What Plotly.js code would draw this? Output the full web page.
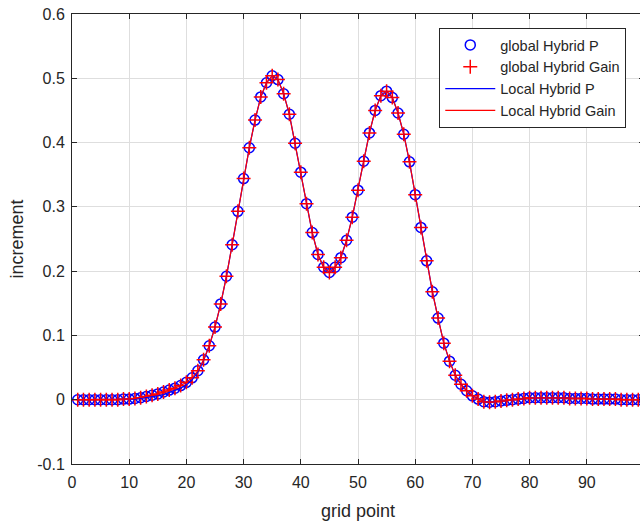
<!DOCTYPE html>
<html>
<head>
<meta charset="utf-8">
<script src="https://cdn.plot.ly/plotly-3.0.1.min.js"></script>
<style>
html, body { margin: 0; padding: 0; overflow: hidden; background: #fff; }
#chart { width: 650px; height: 522px; }
</style>
</head>
<body>
<div id="chart"></div>
<script>
// grid points 1..100
const gridPoint = [
  1,2,3,4,5,6,7,8,9,10,11,12,13,14,15,16,17,18,19,20,
  21,22,23,24,25,26,27,28,29,30,31,32,33,34,35,36,37,38,39,40,
  41,42,43,44,45,46,47,48,49,50,51,52,53,54,55,56,57,58,59,60,
  61,62,63,64,65,66,67,68,69,70,71,72,73,74,75,76,77,78,79,80,
  81,82,83,84,85,86,87,88,89,90,91,92,93,94,95,96,97,98,99,100
];

const globalHybridP = [
  0,0,0,0,0,0,0,0,0.001,0.001,0.002,0.003,0.005,0.007,0.009,0.012,0.015,0.018,0.022,0.027,
  0.034,0.045,0.062,0.084,0.113,0.149,0.192,0.241,0.293,0.344,0.392,0.435,0.471,0.493,0.504,0.498,0.476,0.444,0.399,0.354,
  0.305,0.260,0.226,0.206,0.198,0.206,0.221,0.248,0.284,0.326,0.371,0.415,0.450,0.473,0.480,0.470,0.446,0.413,0.370,0.319,
  0.268,0.216,0.168,0.127,0.088,0.060,0.038,0.024,0.014,0.006,0.001,-0.003,-0.004,-0.003,-0.002,-0.001,0,0.001,0.002,0.003,
  0.003,0.003,0.003,0.003,0.003,0.003,0.002,0.002,0.002,0.002,0.001,0.001,0.001,0.001,0.001,0,0,0,0,0
];

const globalHybridGain = [
  0,0,0,0,0,0,0,0,0.001,0.001,0.002,0.003,0.005,0.007,0.009,0.012,0.015,0.018,0.022,0.027,
  0.034,0.045,0.062,0.084,0.113,0.149,0.192,0.241,0.293,0.344,0.392,0.435,0.471,0.493,0.504,0.498,0.476,0.444,0.399,0.354,
  0.305,0.260,0.226,0.206,0.198,0.206,0.221,0.248,0.284,0.326,0.371,0.415,0.450,0.473,0.480,0.470,0.446,0.413,0.370,0.319,
  0.268,0.216,0.168,0.127,0.088,0.060,0.038,0.024,0.014,0.006,0.001,-0.003,-0.004,-0.003,-0.002,-0.001,0,0.001,0.002,0.003,
  0.003,0.003,0.003,0.003,0.003,0.003,0.002,0.002,0.002,0.002,0.001,0.001,0.001,0.001,0.001,0,0,0,0,0
];

const localHybridP = [
  0,0,0,0,0,0,0,0,0,0.001,0.001,0.002,0.003,0.004,0.006,0.008,0.011,0.014,0.018,0.023,
  0.031,0.043,0.061,0.084,0.113,0.149,0.192,0.241,0.293,0.344,0.392,0.435,0.471,0.493,0.504,0.498,0.476,0.444,0.399,0.354,
  0.305,0.260,0.226,0.206,0.198,0.206,0.221,0.248,0.284,0.326,0.371,0.415,0.450,0.473,0.480,0.470,0.446,0.413,0.370,0.319,
  0.268,0.216,0.168,0.127,0.088,0.060,0.038,0.024,0.014,0.006,0.001,-0.003,-0.004,-0.003,-0.002,-0.001,0,0.001,0.002,0.003,
  0.003,0.003,0.003,0.003,0.003,0.003,0.002,0.002,0.002,0.002,0.001,0.001,0.001,0.001,0.001,0,0,0,0,0
];

const localHybridGain = [
  0,0,0,0,0,0,0,0,0.001,0.001,0.002,0.003,0.005,0.007,0.009,0.012,0.015,0.018,0.022,0.027,
  0.034,0.045,0.062,0.084,0.113,0.149,0.192,0.241,0.293,0.344,0.392,0.435,0.471,0.493,0.504,0.498,0.476,0.444,0.399,0.354,
  0.305,0.260,0.226,0.206,0.198,0.206,0.221,0.248,0.284,0.326,0.371,0.415,0.450,0.473,0.480,0.470,0.446,0.413,0.370,0.319,
  0.268,0.216,0.168,0.127,0.088,0.060,0.038,0.024,0.014,0.006,0.001,-0.003,-0.004,-0.003,-0.002,-0.001,0,0.001,0.002,0.003,
  0.003,0.003,0.003,0.003,0.003,0.003,0.002,0.002,0.002,0.002,0.001,0.001,0.001,0.001,0.001,0,0,0,0,0
];

const xTicks = [0,10,20,30,40,50,60,70,80,90,100];
const xTickText = ['0','10','20','30','40','50','60','70','80','90','100'];
const yTicks = [-0.1,0,0.1,0.2,0.3,0.4,0.5,0.6];
const yTickText = ['-0.1','0','0.1','0.2','0.3','0.4','0.5','0.6'];

const fontFam = '"Liberation Sans", Arial, Helvetica, sans-serif';
const axisColor = '#262626';

const traces = [
  {
    x: gridPoint, y: globalHybridP, name: 'global Hybrid P',
    type: 'scatter', mode: 'markers',
    marker: { symbol: 'circle-open', size: 10, color: '#0000ff', line: { width: 1.5, color: '#0000ff' } }
  },
  {
    x: gridPoint, y: globalHybridGain, name: 'global Hybrid Gain',
    type: 'scatter', mode: 'markers',
    marker: { symbol: 'cross-thin-open', size: 10, color: '#ff0000', line: { width: 1.5, color: '#ff0000' } }
  },
  {
    x: gridPoint, y: localHybridP, name: 'Local Hybrid P',
    type: 'scatter', mode: 'lines',
    line: { color: '#0000ff', width: 1.2 }
  },
  {
    x: gridPoint, y: localHybridGain, name: 'Local Hybrid Gain',
    type: 'scatter', mode: 'lines',
    line: { color: '#ff0000', width: 1.2 }
  }
];

const layout = {
  width: 650, height: 522,
  margin: { l: 72, r: 6, t: 14, b: 58, pad: 0 },
  paper_bgcolor: '#ffffff', plot_bgcolor: '#ffffff',
  font: { family: fontFam, color: axisColor, size: 16 },
  showlegend: true,
  legend: {
    x: 0.969, y: 0.969, xanchor: 'right', yanchor: 'top',
    bgcolor: '#ffffff', bordercolor: axisColor, borderwidth: 1,
    font: { family: fontFam, size: 14.5, color: '#262626' },
    itemwidth: 50, tracegroupgap: 0
  },
  xaxis: {
    range: [0, 100],
    tickvals: xTicks, ticktext: xTickText,
    ticks: 'inside', ticklen: 5, tickwidth: 1, tickcolor: axisColor,
    showline: true, linecolor: axisColor, linewidth: 1, mirror: 'ticks',
    showgrid: true, gridcolor: '#dedede', gridwidth: 1,
    zeroline: false, ticklabelstandoff: 4,
    tickfont: { family: fontFam, size: 16, color: '#262626' },
    title: { text: 'grid point', font: { family: fontFam, size: 18, color: '#262626' }, standoff: 14 }
  },
  yaxis: {
    range: [-0.1, 0.6],
    tickvals: yTicks, ticktext: yTickText,
    ticks: 'inside', ticklen: 5, tickwidth: 1, tickcolor: axisColor,
    showline: true, linecolor: axisColor, linewidth: 1, mirror: 'ticks',
    showgrid: true, gridcolor: '#dedede', gridwidth: 1,
    zeroline: false, ticklabelstandoff: 3,
    tickfont: { family: fontFam, size: 16, color: '#262626' },
    title: { text: 'increment', font: { family: fontFam, size: 18, color: '#262626' }, standoff: 8 }
  }
};

Plotly.newPlot('chart', traces, layout, { displayModeBar: false, staticPlot: true });
</script>
</body>
</html>
